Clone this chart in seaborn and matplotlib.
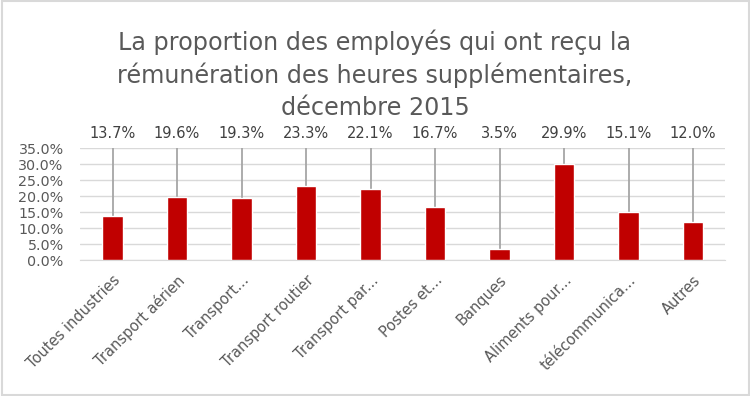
import seaborn as sns
import matplotlib.pyplot as plt
import matplotlib.ticker as mtick
import pandas as pd

categories = ['Toutes industries', 'Transport aérien', 'Transport...', 'Transport routier',
              'Transport par...', 'Postes et...', 'Banques', 'Aliments pour...',
              'télécommunica...', 'Autres']
values = [0.137, 0.196, 0.193, 0.233, 0.221, 0.167, 0.035, 0.299, 0.151, 0.120]
y_ticks = [0.0, 0.05, 0.10, 0.15, 0.20, 0.25, 0.30, 0.35]

sns.set_style('white')
plt.rcParams['font.family'] = ['DejaVu Sans']

df = pd.DataFrame({'cat': categories, 'val': values})

fig = plt.figure(figsize=(7.5, 3.96), dpi=100)
ax = fig.add_axes([0.107, 0.343, 0.86, 0.283])

sns.barplot(data=df, x='cat', y='val', color='#c00000', width=0.32, saturation=1, ax=ax, zorder=3)

ax.set_ylim(0, 0.35)
ax.set_xlim(-0.5, len(categories) - 0.5)
ax.set_yticks(y_ticks)
ax.yaxis.set_major_formatter(mtick.PercentFormatter(xmax=1, decimals=1))
ax.grid(axis='y', color='#d9d9d9', linewidth=1, zorder=0)
for s in ['top', 'right', 'left']:
    ax.spines[s].set_visible(False)
ax.spines['bottom'].set_color('#d9d9d9')
ax.tick_params(axis='y', labelsize=10.3, colors='#595959', length=0, pad=12)
ax.tick_params(axis='x', labelsize=10.5, colors='#595959', length=0, pad=9)
ax.set_xlabel('')
ax.set_ylabel('')
plt.setp(ax.get_xticklabels(), rotation=45, ha='right', rotation_mode='anchor')

# etiquettes avec lignes de rappel
for i, v in enumerate(values):
    ax.vlines(i, v, 0.35, color='#a6a6a6', linewidth=1.3, zorder=2, clip_on=False)
    ax.text(i, 0.372, f'{v * 100:.1f}%', ha='center', va='bottom', fontsize=10.5,
            color='#404040', clip_on=False)

fig.suptitle('La proportion des employés qui ont reçu la\nrémunération des heures supplémentaires,\ndécembre 2015',
             y=0.925, fontsize=17.2, color='#595959', linespacing=1.38)

# bordure
fig.patches.append(plt.Rectangle((0.002, 0.003), 0.996, 0.994, transform=fig.transFigure,
                                 fill=False, edgecolor='#d9d9d9', linewidth=1.5))

plt.savefig('out.png', dpi=100)
